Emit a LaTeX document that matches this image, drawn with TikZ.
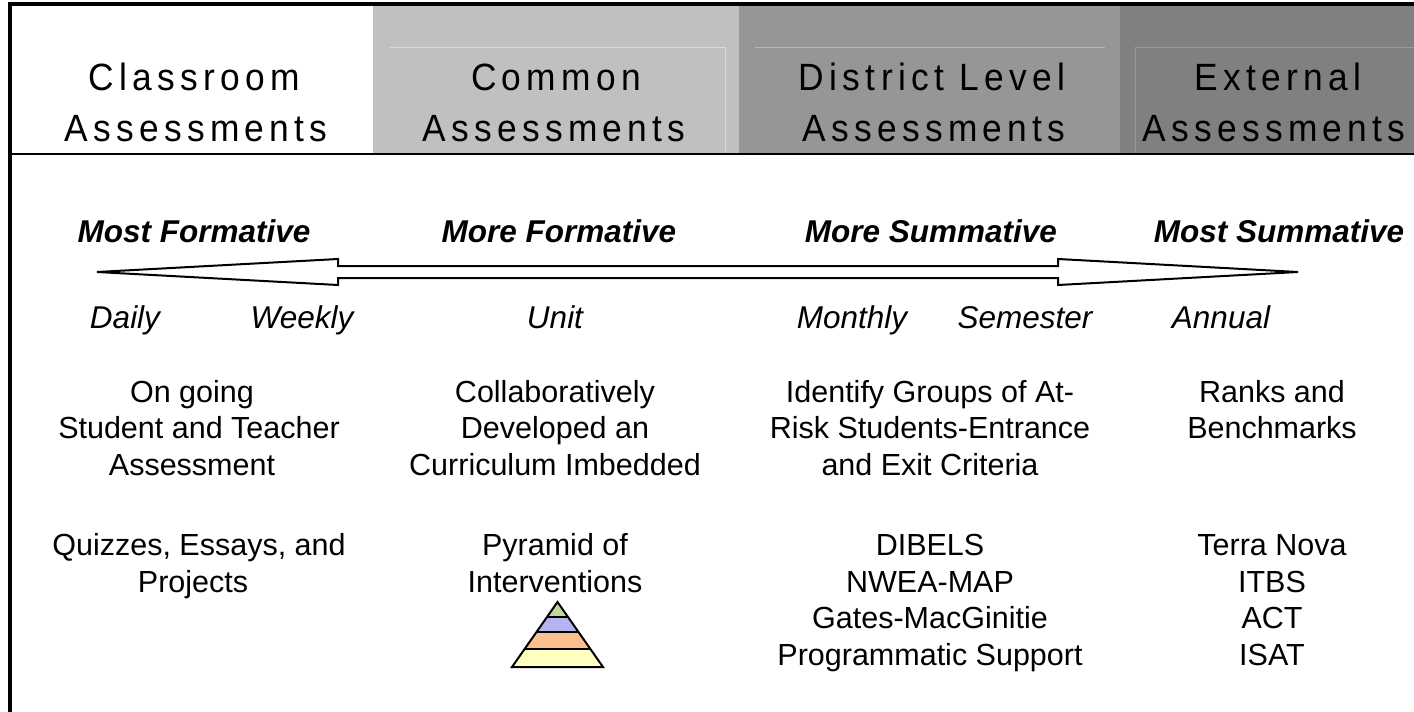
\documentclass[tikz,border=0pt]{standalone}
\usepackage{fontspec}
\usetikzlibrary{calc}
\setmainfont{Liberation Sans}
\newfontfamily\hdrfont[FakeStretch=0.93,LetterSpace=14]{Liberation Sans}
\definecolor{gA}{HTML}{C0C0C0}
\definecolor{gB}{HTML}{969696}
\definecolor{gC}{HTML}{808080}
\definecolor{pyrA}{HTML}{C4D79B}
\definecolor{pyrB}{HTML}{B4B4F0}
\definecolor{pyrC}{HTML}{FAC090}
\definecolor{pyrD}{HTML}{FFFFC0}
\begin{document}
\begin{tikzpicture}[x=1pt,y=-1pt]
\tikzset{
 hdr/.style={font=\hdrfont\fontsize{38}{38}\selectfont, anchor=base, inner sep=0pt},
 ttl/.style={font=\fontsize{31.5}{31.5}\selectfont\bfseries\itshape, anchor=base, inner sep=0pt},
 ital/.style={font=\fontsize{31.5}{31.5}\selectfont\itshape, anchor=base, inner sep=0pt},
 body/.style={font=\fontsize{30.5}{30.5}\selectfont, anchor=base, inner sep=0pt},
 border/.style={line width=4pt, black},
 faint/.style={line width=1pt},
}
\fill[white] (0,0) rectangle (1414,712);
\useasboundingbox (0,0) rectangle (1414,712);
% header columns
\fill[white] (10,4) rectangle (373,154);
\fill[gA] (373,4) rectangle (739,154);
\fill[gB] (739,4) rectangle (1120,154);
\fill[gC] (1120,4) rectangle (1414,154);
\draw[faint, color=gA!60!white] (390,47) -- (725,47) -- (725,154);
\draw[faint, color=gB!70!white] (755,47) -- (1105,47);
\draw[faint, color=gC!80!white] (1414,47) -- (1135,47) -- (1135,154);
% borders
\draw[border] (10,712) -- (10,4) -- (1414,4);
\draw[line width=2.5pt] (10,154) -- (1414,154);
% header texts
\node[hdr] (h1a) at (194,90) {Classroom};
\node[hdr] (h1b) at (196,141) {Assessments};
\node[hdr] (h2a) at (556,90) {Common};
\node[hdr] (h2b) at (554,141) {Assessments};
\node[hdr] (h3a) at (932,90) {District Level};
\node[hdr] (h3b) at (934,141) {Assessments};
\node[hdr] (h4a) at (1278,90) {External};
\node[hdr] (h4b) at (1274,141) {Assessments};
% titles
\node[ttl] (t1) at (194,242) {Most Formative};
\node[ttl] (t2) at (559,242) {More Formative};
\node[ttl] (t3) at (931,242) {More Summative};
\node[ttl] (t4) at (1279,242) {Most Summative};
% double arrow
\draw[line width=2pt, fill=white, line join=miter]
 (97,272) -- (338,259) -- (338,266) -- (1058,266) -- (1058,259) -- (1298,272)
 -- (1058,285) -- (1058,278) -- (338,278) -- (338,285) -- cycle;
% time scale
\node[ital] (d1) at (125,328) {Daily};
\node[ital] (d2) at (302,328) {Weekly};
\node[ital] (d3) at (555,328) {Unit};
\node[ital] (d4) at (852,328) {Monthly};
\node[ital] (d5) at (1025,328) {Semester};
\node[ital] (d6) at (1221,328) {Annual};
% descriptions
\node[body] (a1) at (192,402) {On going};
\node[body] (a2) at (199,438.5) {Student and Teacher};
\node[body] (a3) at (192,475) {Assessment};
\node[body] (b1) at (555,402) {Collaboratively};
\node[body] (b2) at (555,438.5) {Developed an};
\node[body] (b3) at (555,475) {Curriculum Imbedded};
\node[body] (c1) at (930,402) {Identify Groups of At-};
\node[body] (c2) at (930,438.5) {Risk Students-Entrance};
\node[body] (c3) at (930,475) {and Exit Criteria};
\node[body] (e1) at (1272,402) {Ranks and};
\node[body] (e2) at (1272,438.5) {Benchmarks};
% examples
\node[body] (q1) at (199,555) {Quizzes, Essays, and};
\node[body] (q2) at (193,592) {Projects};
\node[body] (p1) at (555,555) {Pyramid of};
\node[body] (p2) at (555,592) {Interventions};
\node[body] (r1) at (930,555) {DIBELS};
\node[body] (r2) at (930,592) {NWEA-MAP};
\node[body] (r3) at (930,628.5) {Gates-MacGinitie};
\node[body] (r4) at (930,665) {Programmatic Support};
\node[body] (s1) at (1272,555) {Terra Nova};
\node[body] (s2) at (1272,592) {ITBS};
\node[body] (s3) at (1272,628.5) {ACT};
\node[body] (s4) at (1272,665) {ISAT};
% pyramid
\begin{scope}[line width=2pt, line join=miter]
\coordinate (pA) at (557.5,602);
\coordinate (pL) at (512,667);
\coordinate (pR) at (603,667);
\fill[pyrD] (pL) -- (pR) -- ($(pA)!0.72!(pR)$) -- ($(pA)!0.72!(pL)$) -- cycle;
\fill[pyrC] ($(pA)!0.72!(pL)$) -- ($(pA)!0.72!(pR)$) -- ($(pA)!0.462!(pR)$) -- ($(pA)!0.462!(pL)$) -- cycle;
\fill[pyrB] ($(pA)!0.462!(pL)$) -- ($(pA)!0.462!(pR)$) -- ($(pA)!0.231!(pR)$) -- ($(pA)!0.231!(pL)$) -- cycle;
\fill[pyrA] ($(pA)!0.231!(pL)$) -- ($(pA)!0.231!(pR)$) -- (pA) -- cycle;
\draw ($(pA)!0.231!(pL)$) -- ($(pA)!0.231!(pR)$);
\draw ($(pA)!0.462!(pL)$) -- ($(pA)!0.462!(pR)$);
\draw ($(pA)!0.72!(pL)$) -- ($(pA)!0.72!(pR)$);
\draw (pA) -- (pR) -- (pL) -- cycle;
\end{scope}
\end{tikzpicture}
\end{document}
